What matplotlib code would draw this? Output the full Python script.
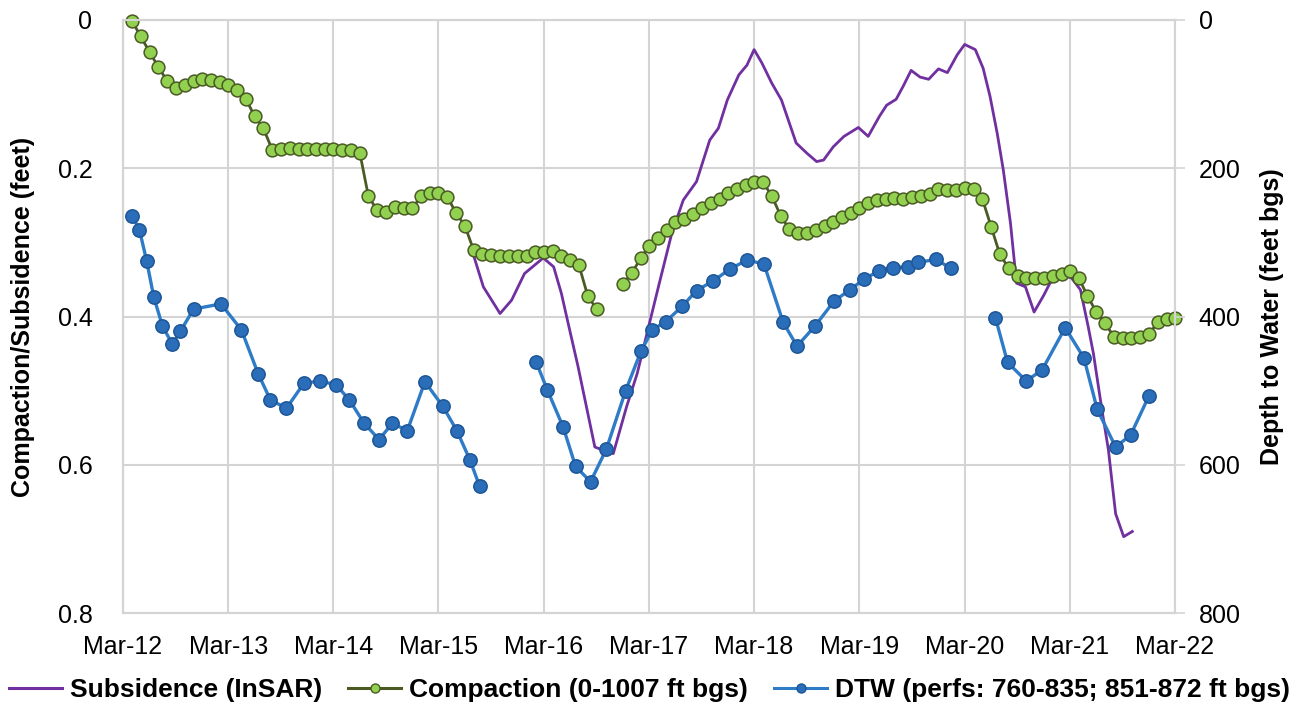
import numpy as np
import pandas as pd
import matplotlib
matplotlib.use("Agg")
import matplotlib.pyplot as plt
import matplotlib.dates as mdates
from matplotlib.lines import Line2D

plt.rcParams['font.family'] = ['Liberation Sans', 'DejaVu Sans']

# --- compaction extensometer (monthly, feet) ---
compaction_start = '2012-04-01'
compaction = [
    0.001, 0.022, 0.043, 0.063, 0.082, 0.092, 0.088, 0.082, 0.080, 0.081, 0.083, 0.088,
    0.094, 0.106, 0.130, 0.146, 0.175, 0.174, 0.173, 0.174, 0.174, 0.174, 0.174, 0.174,
    0.175, 0.175, 0.179, 0.238, 0.257, 0.259, 0.252, 0.253, 0.253, 0.238, 0.234, 0.234,
    0.239, 0.260, 0.278, 0.310, 0.316, 0.317, 0.318, 0.319, 0.318, 0.318, 0.313, 0.313,
    0.311, 0.319, 0.324, 0.331, 0.373, 0.390, np.nan, np.nan, 0.356, 0.341, 0.321, 0.305,
    0.294, 0.283, 0.272, 0.268, 0.262, 0.254, 0.247, 0.241, 0.234, 0.228, 0.223, 0.219,
    0.219, 0.237, 0.264, 0.282, 0.288, 0.288, 0.283, 0.278, 0.272, 0.266, 0.260, 0.254,
    0.247, 0.243, 0.241, 0.240, 0.241, 0.239, 0.238, 0.235, 0.228, 0.229, 0.229, 0.227,
    0.228, 0.241, 0.279, 0.316, 0.335, 0.345, 0.348, 0.348, 0.348, 0.345, 0.342, 0.339,
    0.348, 0.372, 0.394, 0.409, 0.427, 0.429, 0.429, 0.427, 0.423, 0.408, 0.404, 0.402,
]

# --- InSAR subsidence (feet) ---
insar_dates = [
    '2015-06-25', '2015-08-04', '2015-10-01', '2015-11-10', '2015-12-25', '2016-02-28',
    '2016-04-04', '2016-05-01', '2016-05-19', '2016-06-28', '2016-08-25', '2016-09-07',
    '2016-10-28', '2016-12-13', '2017-01-19', '2017-03-04', '2017-04-04', '2017-05-19',
    '2017-06-28', '2017-08-13', '2017-09-28', '2017-10-28', '2017-11-28', '2018-01-07',
    '2018-02-04', '2018-03-01', '2018-03-28', '2018-05-01', '2018-06-04', '2018-07-25',
    '2018-09-01', '2018-10-04', '2018-10-28', '2018-12-01', '2019-01-07', '2019-02-26',
    '2019-04-01', '2019-05-10', '2019-06-04', '2019-07-07', '2019-08-01', '2019-08-28',
    '2019-09-28', '2019-10-28', '2019-12-01', '2020-01-01', '2020-02-04', '2020-03-01',
    '2020-04-07', '2020-05-04', '2020-05-28', '2020-06-22', '2020-07-13', '2020-08-07',
    '2020-08-28', '2020-09-28', '2020-10-28', '2020-12-01', '2020-12-22', '2021-02-07',
    '2021-03-07', '2021-04-07', '2021-05-04', '2021-05-22', '2021-06-19', '2021-07-13',
    '2021-08-07', '2021-09-04', '2021-10-04',
]
insar = [
    0.310, 0.360, 0.396, 0.378, 0.342, 0.321,
    0.333, 0.369, 0.400, 0.468, 0.576, 0.578,
    0.585, 0.522, 0.477, 0.407, 0.358, 0.288,
    0.243, 0.218, 0.162, 0.146, 0.108, 0.074,
    0.061, 0.040, 0.058, 0.085, 0.108, 0.166,
    0.180, 0.191, 0.189, 0.171, 0.157, 0.145,
    0.157, 0.130, 0.115, 0.107, 0.089, 0.068,
    0.077, 0.080, 0.066, 0.071, 0.047, 0.033,
    0.040, 0.065, 0.103, 0.153, 0.202, 0.274,
    0.355, 0.360, 0.394, 0.371, 0.355, 0.342,
    0.348, 0.364, 0.414, 0.450, 0.522, 0.580,
    0.666, 0.697, 0.690,
]

# --- depth to water (feet bgs) ---
dtw_dates = [
    '2012-04-01', '2012-04-27', '2012-05-22', '2012-06-16', '2012-07-16', '2012-08-19',
    '2012-09-16', '2012-11-01', '2013-02-04', '2013-04-16', '2013-06-13', '2013-07-25',
    '2013-09-19', '2013-11-19', '2014-01-13', '2014-03-10', '2014-04-25', '2014-06-16',
    '2014-08-07', '2014-09-22', '2014-11-13', '2015-01-13', '2015-03-16', '2015-05-04',
    '2015-06-19', '2015-07-22',
    '2016-02-04', '2016-03-13', '2016-05-07', '2016-06-19', '2016-08-10', '2016-10-04',
    '2016-12-10', '2017-02-01', '2017-03-13', '2017-04-28', '2017-06-25', '2017-08-13',
    '2017-10-10', '2017-12-07', '2018-02-04', '2018-04-04', '2018-06-10', '2018-07-28',
    '2018-09-28', '2018-12-04', '2019-01-28', '2019-03-16', '2019-05-10', '2019-06-25',
    '2019-08-16', '2019-09-22', '2019-11-22', '2020-01-13',
    '2020-06-16', '2020-07-28', '2020-10-01', '2020-11-25', '2021-02-13', '2021-04-19',
    '2021-06-04', '2021-08-07', '2021-09-28', '2021-12-01',
]
dtw = [
    264, 283, 325, 374, 413, 437,
    420, 390, 383, 418, 477, 512,
    524, 490, 487, 492, 512, 544,
    566, 544, 554, 488, 521, 554,
    594, 629,
    462, 499, 549, 602, 623, 579,
    500, 447, 418, 407, 386, 365,
    352, 336, 324, 329, 408, 440,
    413, 379, 364, 350, 338, 334,
    333, 327, 323, 335,
    402, 462, 487, 472, 415, 456,
    525, 576, 560, 507,
]

year_ticks = pd.date_range('2012-03-01', '2022-03-01', freq='12MS')

comp = pd.Series(compaction,
                 index=pd.date_range(compaction_start, periods=len(compaction), freq='MS'))
sub = pd.Series(insar, index=pd.to_datetime(insar_dates))

# break the water-level line where there are long gaps between readings
wl = pd.Series(dtw, index=pd.to_datetime(dtw_dates), dtype=float)
gaps = wl.index.to_series().diff() > pd.Timedelta(days=150)
breaks = wl.index[gaps.values] - pd.Timedelta(days=1)
wl = pd.concat([wl, pd.Series(np.nan, index=breaks)]).sort_index()

PURPLE = '#7030A0'
GREEN = '#92D050'
OLIVE = '#4A5A24'
BLUE_LINE = '#2E7BC8'
BLUE_FACE = '#2A6DB9'
BLUE_EDGE = '#1E5696'
GRID = '#D4D4D4'

fig = plt.figure(figsize=(12.99, 7.11), dpi=100)
ax = fig.add_axes([0.0947, 0.1378, 0.8098, 0.8341])

ax.plot(sub.index, sub.values, color=PURPLE, lw=2.0, zorder=2)
ax.plot(comp.index, comp.values, color=OLIVE, lw=2.0, marker='o', ms=9.2,
        mfc=GREEN, mec=OLIVE, mew=1.1, zorder=3, clip_on=False)

ax.set_xlim(pd.Timestamp('2012-03-01'), pd.Timestamp('2022-03-01'))
ax.set_ylim(0.8, 0)
ax.set_yticks([0, 0.2, 0.4, 0.6, 0.8])
ax.set_yticklabels(['0', '0.2', '0.4', '0.6', '0.8'])
ax.set_xticks(year_ticks)
ax.xaxis.set_major_formatter(mdates.DateFormatter('%b-%y'))
ax.grid(True, color=GRID, lw=1.5)
ax.set_axisbelow(True)
ax.tick_params(axis='x', length=0, labelsize=18, pad=16)
ax.tick_params(axis='y', length=0, labelsize=18, pad=22)
for s in ax.spines.values():
    s.set_color(GRID)
    s.set_linewidth(1.5)
ax.set_ylabel('Compaction/Subsidence (feet)', fontsize=18, fontweight='bold', labelpad=16)

ax2 = ax.twinx()
ax2.plot(wl.index, wl.values, color=BLUE_LINE, lw=2.4, marker='o', ms=9.6,
         mfc=BLUE_FACE, mec=BLUE_EDGE, mew=1.1)
ax2.set_ylim(800, 0)
ax2.set_yticks([0, 200, 400, 600, 800])
ax2.tick_params(axis='y', length=7, width=1.2, color=GRID, labelsize=18, pad=10)
for s in ax2.spines.values():
    s.set_color(GRID)
    s.set_linewidth(1.5)
ax2.set_ylabel('Depth to Water (feet bgs)', fontsize=18, fontweight='bold', labelpad=14)

handles = [
    Line2D([], [], color=PURPLE, lw=2.2),
    Line2D([], [], color=OLIVE, lw=2.2, marker='o', ms=6.5, mfc=GREEN, mec=OLIVE),
    Line2D([], [], color=BLUE_LINE, lw=2.2, marker='o', ms=6.5, mfc=BLUE_FACE, mec=BLUE_EDGE),
]
labels = ['Subsidence (InSAR)', 'Compaction (0-1007 ft bgs)',
          'DTW (perfs: 760-835; 851-872 ft bgs)']
fig.legend(handles, labels, loc='center', bbox_to_anchor=(0.5, 1 - 690 / 711), ncol=3,
           frameon=False, handlelength=2.0, handletextpad=0.3, columnspacing=1.0,
           prop={'weight': 'bold', 'size': 19})

fig.savefig('out.png', dpi=100)
